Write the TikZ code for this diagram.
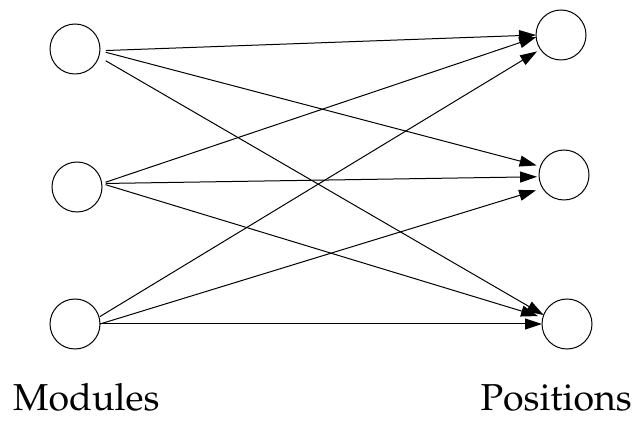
\documentclass[tikz,border=0pt]{standalone}
\usepackage[T1]{fontenc}
\renewcommand{\rmdefault}{ppl}
\usetikzlibrary{arrows.meta}
\begin{document}
\begin{tikzpicture}[x=1pt,y=-1pt,
  slot/.style={circle,draw,line width=1pt,minimum size=50pt,inner sep=0pt,outer sep=0pt},
  link/.style={line width=1pt,-{Triangle[length=17pt,width=11pt]}},
  caption/.style={font=\fontsize{37.5}{45}\selectfont,inner sep=0pt}]
  \useasboundingbox (0,0) rectangle (635,430);
  % modules on the left
  \node[slot] (m1) at (75,49) {};
  \node[slot] (m2) at (77,187) {};
  \node[slot] (m3) at (75,324) {};
  % positions on the right
  \node[slot] (p1) at (561,35) {};
  \node[slot] (p2) at (564,175) {};
  \node[slot] (p3) at (567,324) {};
  % every module may go to every position
  \draw[link,shorten <=6pt] (m1.-4) -- (p1.180);
  \draw[link,shorten <=6pt,shorten >=4pt] (m1.-4) -- (p2.160);
  \draw[link,shorten <=8pt] (m1.-18) -- (p3.159);
  \draw[link,shorten <=4pt] (m2.8) -- (p1.185);
  \draw[link,shorten <=4pt,shorten >=2pt] (m2.8) -- (p2.184);
  \draw[link,shorten <=4pt,shorten >=5pt] (m2.8) -- (p3.165);
  \draw[link,shorten <=1pt,shorten >=4pt] (m3.16) -- (p1.215);
  \draw[link,shorten >=7pt] (m3.0) -- (p2.212);
  \draw[link] (m3.0) -- (p3.180);
  % column captions
  \node[caption,anchor=base west] (mods) at (13,411) {Modules};
  \node[caption,anchor=base east] (poss) at (632,411) {Positions};
\end{tikzpicture}
\end{document}
